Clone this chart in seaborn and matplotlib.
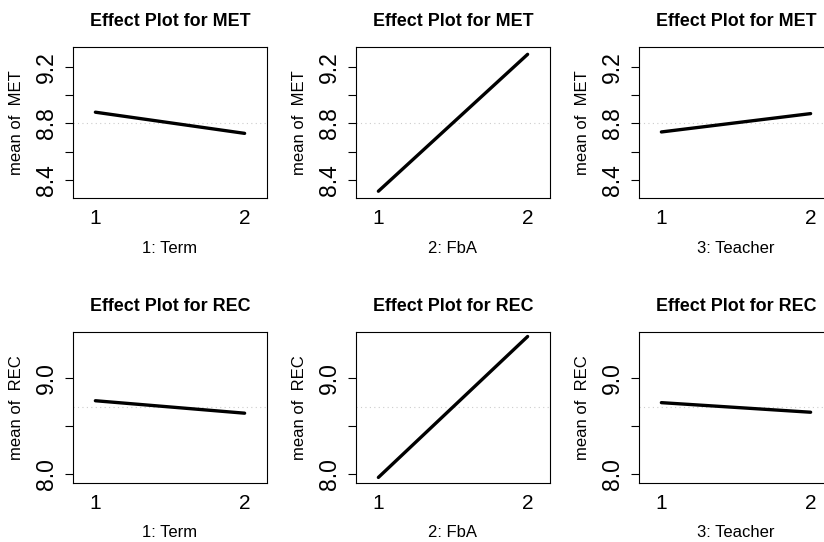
import pandas as pd
import matplotlib
matplotlib.use("Agg")
import matplotlib.pyplot as plt
import seaborn as sns

factors = ["1: Term", "2: FbA", "3: Teacher"]
levels = [1, 2]

# effect means at level 1 and level 2 for each factor
met_level1 = [8.88, 8.32, 8.74]
met_level2 = [8.73, 9.29, 8.87]
rec_level1 = [8.76, 7.96, 8.74]
rec_level2 = [8.63, 9.43, 8.64]

met_grand_mean = 8.805
rec_grand_mean = 8.695

met_ticks = [8.4, 8.6, 8.8, 9.0, 9.2]
met_ticklabels = ["8.4", "", "8.8", "", "9.2"]
rec_ticks = [8.0, 8.5, 9.0]
rec_ticklabels = ["8.0", "", "9.0"]

rows = []
for resp, lo, hi in [("MET", met_level1, met_level2), ("REC", rec_level1, rec_level2)]:
    for f, a, b in zip(factors, lo, hi):
        rows.append({"response": resp, "factor": f, "level": levels[0], "mean": a})
        rows.append({"response": resp, "factor": f, "level": levels[1], "mean": b})
df = pd.DataFrame(rows)

sns.set_theme(style="white")
plt.rcParams["font.family"] = ["Liberation Sans", "DejaVu Sans"]
plt.rcParams["text.color"] = "black"
plt.rcParams["axes.labelcolor"] = "black"
plt.rcParams["xtick.color"] = "black"
plt.rcParams["ytick.color"] = "black"

W, H = 824, 542
fig = plt.figure(figsize=(W / 100, H / 100), dpi=100)

col_left = [73, 356, 639]
row_top = [47, 331.7]
ax_w, ax_h = 194, 151

resp_info = {
    "MET": (met_grand_mean, met_ticks, met_ticklabels, (8.272, 9.342)),
    "REC": (rec_grand_mean, rec_ticks, rec_ticklabels, (7.905, 9.48)),
}

for r, resp in enumerate(["MET", "REC"]):
    gm, ticks, tlabels, ylim = resp_info[resp]
    for c, f in enumerate(factors):
        rect = [col_left[c] / W, (H - row_top[r] - ax_h) / H, ax_w / W, ax_h / H]
        ax = fig.add_axes(rect)
        sub = df[(df["response"] == resp) & (df["factor"] == f)]
        ax.axhline(gm, color="#cccccc", lw=0.8, ls=(0, (1, 3)), zorder=1)
        sns.lineplot(data=sub, x="level", y="mean", ax=ax, color="black",
                     lw=2.4, zorder=2)
        ax.set_xlim(0.85, 2.15)
        ax.set_ylim(*ylim)
        ax.set_xticks(levels)
        ax.set_xticklabels([str(v) for v in levels], fontsize=15)
        ax.set_yticks(ticks)
        ax.set_yticklabels(tlabels, fontsize=16.5, rotation=90, va="center")
        ax.tick_params(axis="x", length=0, pad=8)
        ax.tick_params(axis="y", length=6, width=0.8, color="black", pad=5,
                       left=True)
        for s in ax.spines.values():
            s.set_color("black")
            s.set_linewidth(0.8)
        ax.set_xlabel(f, fontsize=12, labelpad=9)
        ax.set_ylabel(f"mean of  {resp}", fontsize=12, labelpad=8)
        ax.set_title(f"Effect Plot for {resp}", fontsize=12.9,
                     fontweight="bold", pad=15)
        ax.grid(False)

fig.savefig("out.png", dpi=100)
